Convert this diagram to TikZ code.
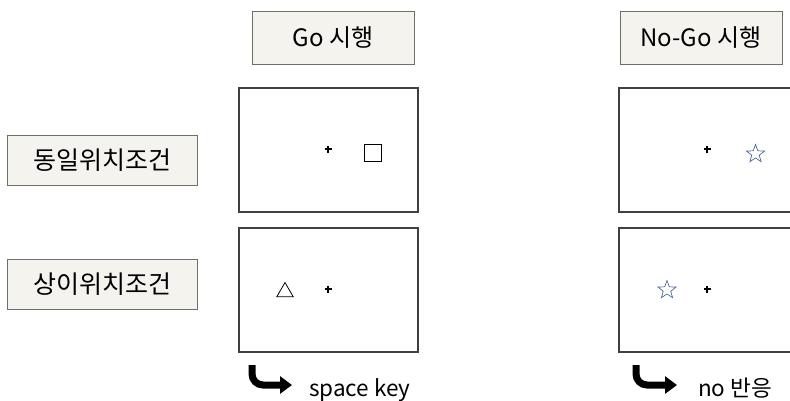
\documentclass[tikz,border=0pt]{standalone}
\usepackage{fontspec}
\setmainfont{Noto Sans CJK KR}
\usetikzlibrary{arrows.meta, shapes.geometric, positioning}

\definecolor{labelfill}{HTML}{F4F3EE}
\definecolor{labelline}{HTML}{6E6E6E}
\definecolor{screenline}{HTML}{404040}
\definecolor{starblue}{HTML}{4A6A9C}

\newcommand{\fixmark}[1]{\draw[line width=1.4pt] ([xshift=-3.5pt]#1) -- ([xshift=3.5pt]#1) ([yshift=-3.5pt]#1) -- ([yshift=3.5pt]#1);}

\begin{document}
\begin{tikzpicture}[x=1pt, y=-1pt,
  tag/.style={draw=labelline, fill=labelfill, line width=0.9pt, inner sep=0pt, font=\fontsize{24}{28}\selectfont},
  cond/.style={tag, minimum width=190pt, minimum height=50pt, font=\fontsize{25}{29}\selectfont},
  screen/.style={draw=screenline, line width=1.8pt, minimum width=179pt, minimum height=124pt, inner sep=0pt},
  respkey/.style={-{Triangle[length=12pt,width=17pt]}, line width=7pt, rounded corners=11pt},
  resptext/.style={anchor=base west, inner sep=0pt, font=\fontsize{22.5}{27}\selectfont}]

\useasboundingbox (0,0) rectangle (790,400);

% trial headers
\node[tag, minimum width=162pt, minimum height=53pt] (gohead) at (333,37.5) {Go 시행};
\node[tag, minimum width=162pt, minimum height=53pt] (nogohead) at (701,37.5) {No-Go 시행};

% conditions
\node[cond] (same) at (102,160) {동일위치조건};
\node[cond] (diff) at (102.5,284) {상이위치조건};

% screens
\node[screen] (gosame) at (328.5,150) {};
\node[screen] (godiff) at (328.5,290) {};
\node[screen] (nogosame) at (708.5,150) {};
\node[screen] (nogodiff) at (708.5,290) {};

% fixation points
\coordinate (fixA) at (328,149);
\coordinate (fixB) at (328,289);
\coordinate (fixC) at (707,149);
\coordinate (fixD) at (707,289);
\fixmark{fixA}
\fixmark{fixB}
\fixmark{fixC}
\fixmark{fixD}

% targets
\node[draw, line width=1.6pt, minimum size=17pt, inner sep=0pt] (square) at (373,153) {};
\node[draw, regular polygon, regular polygon sides=3, line width=0.8pt, minimum size=19pt, inner sep=0pt] (triangle) at (285,292) {};
\node[draw=starblue, star, star points=5, star point ratio=2.4, line width=0.7pt, minimum size=19pt, inner sep=0pt] (starA) at (755.5,154) {};
\node[draw=starblue, star, star points=5, star point ratio=2.4, line width=0.7pt, minimum size=19pt, inner sep=0pt] (starB) at (667,290) {};

% responses
\node[resptext] (gokey) at (309,396) {space key};
\node[resptext] (nogokey) at (698,396) {no 반응};
\coordinate (gostart) at (252,365);
\coordinate (goend) at (292,385);
\coordinate (nogostart) at (636,365);
\coordinate (nogoend) at (677,385);
\draw[respkey] (gostart) |- (goend);
\draw[respkey] (nogostart) |- (nogoend);

\end{tikzpicture}
\end{document}
